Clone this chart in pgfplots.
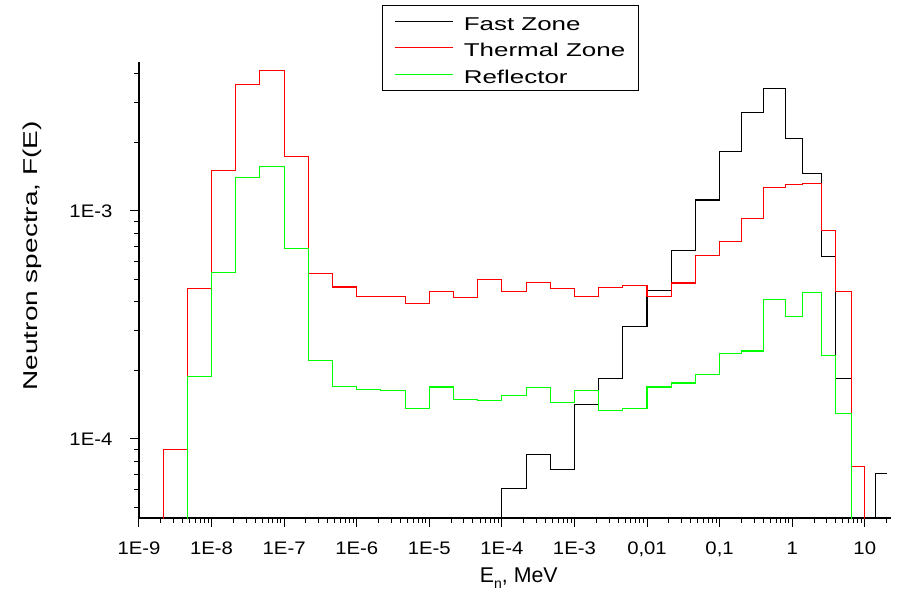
\documentclass[border=0pt]{standalone}
\usepackage{fontspec}
\setmainfont{Liberation Sans}
\usepackage{graphicx}
\usepackage{pgfplots}
\pgfplotsset{compat=1.18}
\newcommand{\tl}[1]{\scalebox{1.12}[1]{#1}}
\newcommand{\lgd}[1]{\scalebox{1.4}[1]{#1}}
\definecolor{lime}{RGB}{0,255,0}
\begin{document}
\begin{tikzpicture}
\path[use as bounding box] (-104.25pt,-54.75pt) rectangle (569.25pt,388.5pt);
\begin{axis}[
  scale only axis, width=564pt, height=342pt,
  at={(0,0)}, anchor=south west,
  xmode=log, ymode=log,
  xmin=1e-9, xmax=23, ymin=4.5e-5, ymax=4.5e-3,
  axis x line*=bottom, axis y line*=left,
  axis line style={line width=1pt, black},
  tick align=outside,
  major tick length=6.75pt, minor tick length=3.4pt,
  every tick/.style={black, line width=0.75pt},
  xtick={1e-9,1e-8,1e-7,1e-6,1e-5,1e-4,1e-3,1e-2,1e-1,1,10},
  xticklabels={\tl{1E-9},\tl{1E-8},\tl{1E-7},\tl{1E-6},\tl{1E-5},\tl{1E-4},\tl{1E-3},\tl{0,01},\tl{0,1},\tl{1},\tl{10}},
  minor xtick={2e-9,3e-9,4e-9,5e-9,6e-9,7e-9,8e-9,9e-9,
    2e-8,3e-8,4e-8,5e-8,6e-8,7e-8,8e-8,9e-8,
    2e-7,3e-7,4e-7,5e-7,6e-7,7e-7,8e-7,9e-7,
    2e-6,3e-6,4e-6,5e-6,6e-6,7e-6,8e-6,9e-6,
    2e-5,3e-5,4e-5,5e-5,6e-5,7e-5,8e-5,9e-5,
    2e-4,3e-4,4e-4,5e-4,6e-4,7e-4,8e-4,9e-4,
    2e-3,3e-3,4e-3,5e-3,6e-3,7e-3,8e-3,9e-3,
    0.02,0.03,0.04,0.05,0.06,0.07,0.08,0.09,
    0.2,0.3,0.4,0.5,0.6,0.7,0.8,0.9,
    2,3,4,5,6,7,8,9,20},
  ytick={1e-4,1e-3},
  yticklabels={\tl{1E-4},\tl{1E-3}},
  minor ytick={5e-5,6e-5,7e-5,8e-5,9e-5,2e-4,3e-4,4e-4,5e-4,6e-4,7e-4,8e-4,9e-4,2e-3,3e-3,4e-3},
  tick label style={font=\fontsize{13.6}{16}\selectfont},
  xticklabel style={anchor=base, inner sep=0pt, yshift=-21pt},
  yticklabel style={anchor=east, inner sep=0pt, xshift=-13pt},
  every axis x label/.style={at={(axis description cs:0.505,-0.1404)}, anchor=base, font=\fontsize{16}{18}\selectfont},
  every axis y label/.style={at={(axis description cs:-0.1417,0.575)}, rotate=90, anchor=center, font=\fontsize{15}{18}\selectfont},
  xlabel={E\raisebox{-0.55ex}{\fontsize{10.5}{10.5}\selectfont n}, MeV},
  ylabel={\scalebox{1.4}[1]{Neutron spectra, F(E)}},
  legend style={at={(axis description cs:0.3227,1.125)}, anchor=north west, draw=black, line width=0.6pt,
    inner xsep=9pt, inner ysep=4pt, row sep=4.5pt,
    font=\fontsize{13.9}{16}\selectfont,
    nodes={inner sep=1pt, text height=13.5pt, text depth=0pt},
    /tikz/every odd column/.append style={column sep=6.5pt}},
  legend cell align=left,
  legend image code/.code={\draw[#1] (0pt,0pt) -- (44pt,0pt);},
  clip=true,
]
\addplot[const plot mark left, black, line width=0.8pt] coordinates {
(1e-4,1e-7) (1e-4,6.05e-5) (2.154e-4,8.53e-5) (4.642e-4,7.33e-5)
(1e-3,1.41e-4) (2.154e-3,1.84e-4) (4.642e-3,3.11e-4)
(1e-2,4.46e-4) (2.154e-2,6.68e-4) (4.642e-2,1.117e-3)
(0.1,1.82e-3) (0.2,2.69e-3) (0.4,3.43e-3) (0.8,2.08e-3) (1.4,1.46e-3)
(2.5,6.3e-4) (4.0,1.84e-4) (6.5,1e-7) (14,1e-7) (14,7.05e-5) (20,7.05e-5)
};
\addlegendentry{\lgd{Fast Zone}}
\addplot[const plot mark left, red, line width=0.8pt] coordinates {
(2.154e-9,1e-7) (2.154e-9,9.0e-5) (4.642e-9,4.55e-4)
(1e-8,1.51e-3) (2.154e-8,3.58e-3) (4.642e-8,4.12e-3)
(1e-7,1.74e-3) (2.154e-7,5.31e-4) (4.642e-7,4.64e-4)
(1e-6,4.20e-4) (2.154e-6,4.22e-4) (4.642e-6,3.92e-4)
(1e-5,4.45e-4) (2.154e-5,4.17e-4) (4.642e-5,5.0e-4)
(1e-4,4.45e-4) (2.154e-4,4.87e-4) (4.642e-4,4.56e-4)
(1e-3,4.22e-4) (2.154e-3,4.61e-4) (4.642e-3,4.72e-4)
(1e-2,4.21e-4) (2.154e-2,4.83e-4) (4.642e-2,6.35e-4)
(0.1,7.33e-4) (0.2,9.25e-4) (0.4,1.27e-3) (0.8,1.31e-3) (1.4,1.32e-3)
(2.5,8.17e-4) (4.0,4.43e-4) (6.5,7.57e-5) (10,1e-7)
};
\addlegendentry{\lgd{Thermal Zone}}
\addplot[const plot mark left, lime, line width=0.8pt] coordinates {
(4.642e-9,1e-7) (4.642e-9,1.875e-4)
(1e-8,5.38e-4) (2.154e-8,1.406e-3) (4.642e-8,1.57e-3)
(1e-7,6.84e-4) (2.154e-7,2.21e-4) (4.642e-7,1.70e-4)
(1e-6,1.64e-4) (2.154e-6,1.63e-4) (4.642e-6,1.36e-4)
(1e-5,1.69e-4) (2.154e-5,1.49e-4) (4.642e-5,1.48e-4)
(1e-4,1.55e-4) (2.154e-4,1.68e-4) (4.642e-4,1.45e-4)
(1e-3,1.63e-4) (2.154e-3,1.33e-4) (4.642e-3,1.36e-4)
(1e-2,1.69e-4) (2.154e-2,1.76e-4) (4.642e-2,1.91e-4)
(0.1,2.37e-4) (0.2,2.43e-4) (0.4,4.07e-4) (0.8,3.43e-4) (1.4,4.40e-4)
(2.5,2.32e-4) (4.0,1.29e-4) (6.5,1e-7)
};
\addlegendentry{\lgd{Reflector}}
\end{axis}
\end{tikzpicture}
\end{document}
